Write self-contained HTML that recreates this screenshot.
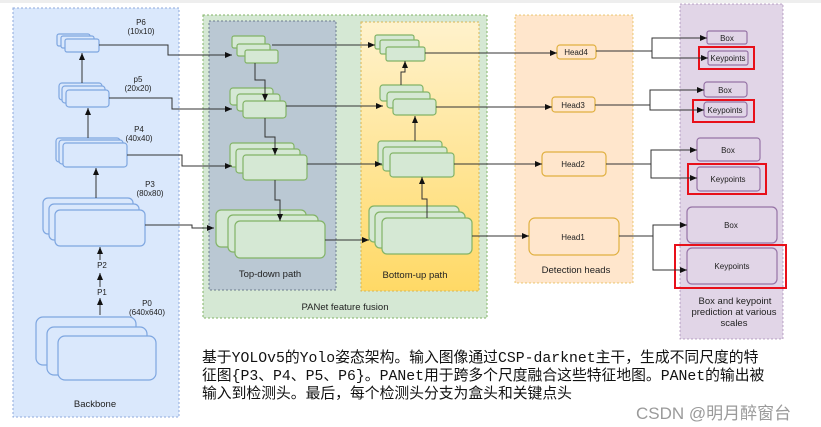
<!DOCTYPE html>
<html><head><meta charset="utf-8"><style>
html,body{margin:0;padding:0;background:#fff;width:821px;height:427px;overflow:hidden}
svg text{font-family:"Liberation Sans",sans-serif;fill:#222}
.cn{position:absolute;left:202px;font-family:"Liberation Mono","WenQuanYi Zen Hei",monospace;font-size:14.8px;color:#111;white-space:pre;letter-spacing:0}
</style></head><body>
<svg width="821" height="427" viewBox="0 0 821 427" xmlns="http://www.w3.org/2000/svg" style="position:absolute;left:0;top:0">
<defs>
<marker id="a" markerWidth="8" markerHeight="8" refX="7" refY="4" orient="auto" markerUnits="userSpaceOnUse"><path d="M0,1 L7,4 L0,7 Z" fill="#111"/></marker>
<linearGradient id="yg" x1="0" y1="0" x2="0" y2="1"><stop offset="0" stop-color="#fff2cc"/><stop offset="1" stop-color="#ffd966"/></linearGradient>
</defs>
<rect x="0" y="0" width="821" height="3" fill="#eee"/>
<rect x="13" y="8" width="166" height="409" fill="#dae8fc" stroke="#8faadc" stroke-dasharray="2,2"/>
<rect x="203" y="15" width="284" height="303" fill="#d5e8d4" stroke="#82b366" stroke-dasharray="2,2"/>
<rect x="209" y="21" width="127" height="269" fill="#bac8d3" stroke="#6c7c8c" stroke-dasharray="2,2"/>
<rect x="361" y="22" width="118" height="269" fill="url(#yg)" stroke="#d6b656" stroke-dasharray="2,2"/>
<rect x="515" y="15" width="118" height="268" fill="#ffe6cc" stroke="#d79b00" stroke-opacity="0.5" stroke-dasharray="2,2"/>
<rect x="680" y="4" width="103" height="335" fill="#e1d5e7" stroke="#9673a6" stroke-opacity="0.6" stroke-dasharray="2,2"/>
<g fill="#dae8fc" stroke="#7ea6e0" stroke-width="1.2">
<rect x="57" y="34" width="33" height="12" rx="2"/><rect x="61" y="36" width="33" height="12" rx="2"/><rect x="65" y="39" width="34" height="13" rx="2"/>
<rect x="59" y="83" width="43" height="17" rx="3"/><rect x="62" y="86" width="43" height="17" rx="3"/><rect x="66" y="90" width="43" height="17" rx="3"/>
<rect x="56" y="138" width="64" height="24" rx="3"/><rect x="59" y="140" width="64" height="24" rx="3"/><rect x="63" y="143" width="64" height="24" rx="3"/>
<rect x="43" y="198" width="90" height="36" rx="5"/><rect x="49" y="204" width="90" height="36" rx="5"/><rect x="55" y="210" width="90" height="36" rx="5"/>
<rect x="36" y="317" width="100" height="48" rx="7"/><rect x="47" y="327" width="100" height="48" rx="7"/><rect x="58" y="336" width="98" height="44" rx="7"/>
</g>
<g fill="#d5e8d4" stroke="#82b366" stroke-width="1.2">
<rect x="232" y="36" width="33" height="12" rx="2"/><rect x="237" y="44" width="33" height="12" rx="2"/><rect x="245" y="50" width="33" height="13" rx="2"/>
<rect x="230" y="88" width="43" height="17" rx="3"/><rect x="237" y="94" width="43" height="17" rx="3"/><rect x="243" y="101" width="43" height="17" rx="3"/>
<rect x="230" y="143" width="64" height="24" rx="3"/><rect x="236" y="149" width="64" height="24" rx="3"/><rect x="243" y="155" width="64" height="25" rx="3"/>
<rect x="216" y="210" width="90" height="37" rx="5"/><rect x="228" y="215" width="90" height="37" rx="5"/><rect x="235" y="221" width="90" height="37" rx="5"/>
<rect x="375" y="35" width="39" height="14" rx="2"/><rect x="380" y="40" width="39" height="14" rx="2"/><rect x="386" y="47" width="39" height="14" rx="2"/>
<rect x="380" y="85" width="43" height="16" rx="3"/><rect x="387" y="92" width="43" height="16" rx="3"/><rect x="393" y="99" width="43" height="16" rx="3"/>
<rect x="378" y="141" width="64" height="24" rx="3"/><rect x="383" y="147" width="64" height="24" rx="3"/><rect x="390" y="153" width="64" height="24" rx="3"/>
<rect x="369" y="206" width="90" height="36" rx="5"/><rect x="375" y="212" width="90" height="36" rx="5"/><rect x="382" y="218" width="90" height="36" rx="5"/>
</g>
<g fill="#ffe6cc" stroke="#e0b040" stroke-width="1.2">
<rect x="557" y="45" width="39" height="14" rx="3"/>
<rect x="552" y="97" width="43" height="15" rx="3"/>
<rect x="542" y="152" width="64" height="24" rx="4"/>
<rect x="529" y="218" width="90" height="37" rx="6"/>
</g>
<g fill="#e1d5e7" stroke="#9673a6" stroke-width="1.2">
<rect x="707" y="31" width="40" height="13" rx="2"/><rect x="708" y="51" width="40" height="14" rx="2"/>
<rect x="704" y="82" width="43" height="15" rx="3"/><rect x="704" y="102" width="43" height="15" rx="3"/>
<rect x="697" y="138" width="63" height="23" rx="3"/><rect x="697" y="167" width="63" height="24" rx="3"/>
<rect x="687" y="207" width="90" height="36" rx="5"/><rect x="687" y="248" width="90" height="36" rx="5"/>
</g>
<g fill="none" stroke="#e8101a" stroke-width="2">
<rect x="699" y="47" width="55" height="22"/><rect x="693" y="100" width="61" height="22"/>
<rect x="688" y="164" width="78" height="30"/><rect x="675" y="245" width="111" height="43"/>
</g>
<g fill="none" stroke="#333" stroke-width="1" marker-end="url(#a)">
<path d="M82,83 V53"/><path d="M88,138 V108"/><path d="M96,198 V168"/>
<path d="M100,260 V247"/><path d="M100,287 V273"/><path d="M100,315 V298"/>
<path d="M99,45 H168 V55 H232"/><path d="M109,98 H172 V109 H232"/>
<path d="M127,155 H182 V166 H232"/><path d="M145,225 H192 V228 H214"/>
<path d="M255,63 V80 H265 V101"/><path d="M265,118 V137 H275 V155"/><path d="M275,180 V200 H280 V221"/>
<path d="M272,45 H375"/><path d="M286,106 H383"/><path d="M307,164 H382"/><path d="M325,240 H369"/>
<path d="M427,218 V199 H422 V177"/><path d="M415,141 V116"/><path d="M401,85 V72 H405 V61"/>
<path d="M425,53 H557"/><path d="M436,107 H552"/><path d="M454,164 H542"/><path d="M472,236 H529"/>
<path d="M596,51 H652 V38 H707"/><path d="M652,51 V58 H708"/>
<path d="M595,105 H650 V90 H704"/><path d="M650,105 V110 H704"/>
<path d="M606,164 H651 V150 H697"/><path d="M651,164 V178 H697"/>
<path d="M619,236 H653 V225 H687"/><path d="M653,236 V270 H687"/>
</g>
<g font-size="8" text-anchor="middle">
<text x="141" y="25">P6</text><text x="141" y="34">(10x10)</text>
<text x="138" y="82">p5</text><text x="138" y="91">(20x20)</text>
<text x="139" y="132">P4</text><text x="139" y="141">(40x40)</text>
<text x="150" y="187">P3</text><text x="150" y="196">(80x80)</text>
<text x="102" y="268">P2</text><text x="102" y="295">P1</text>
<text x="147" y="306">P0</text><text x="147" y="315">(640x640)</text>
<text x="576" y="55">Head4</text><text x="573" y="108">Head3</text><text x="573" y="167">Head2</text><text x="573" y="240">Head1</text>
<text x="727" y="41">Box</text><text x="728" y="61">Keypoints</text>
<text x="725" y="93">Box</text><text x="725" y="113">Keypoints</text>
<text x="728" y="153">Box</text><text x="728" y="182">Keypoints</text>
<text x="731" y="228">Box</text><text x="732" y="269">Keypoints</text>
</g>
<g font-size="9.5" text-anchor="middle">
<text x="95" y="407">Backbone</text>
<text x="270" y="277">Top-down path</text>
<text x="415" y="278">Bottom-up path</text>
<text x="345" y="310">PANet feature fusion</text>
<text x="576" y="273">Detection heads</text>
<text x="735" y="304">Box and keypoint</text>
<text x="734" y="315">prediction at various</text>
<text x="734" y="326">scales</text>
</g>
</svg>
<div class="cn" style="top:346px">基于YOLOv5的Yolo姿态架构。输入图像通过CSP-darknet主干，生成不同尺度的特</div>
<div class="cn" style="top:364px">征图{P3、P4、P5、P6}。PANet用于跨多个尺度融合这些特征地图。PANet的输出被</div>
<div class="cn" style="top:382px">输入到检测头。最后，每个检测头分支为盒头和关键点头</div>
<div style="position:absolute;left:636px;top:399px;font-family:'Liberation Sans','Noto Sans CJK SC',sans-serif;font-size:17px;color:#9a9a9a;white-space:pre">CSDN @明月醉窗台</div>
</body></html>
